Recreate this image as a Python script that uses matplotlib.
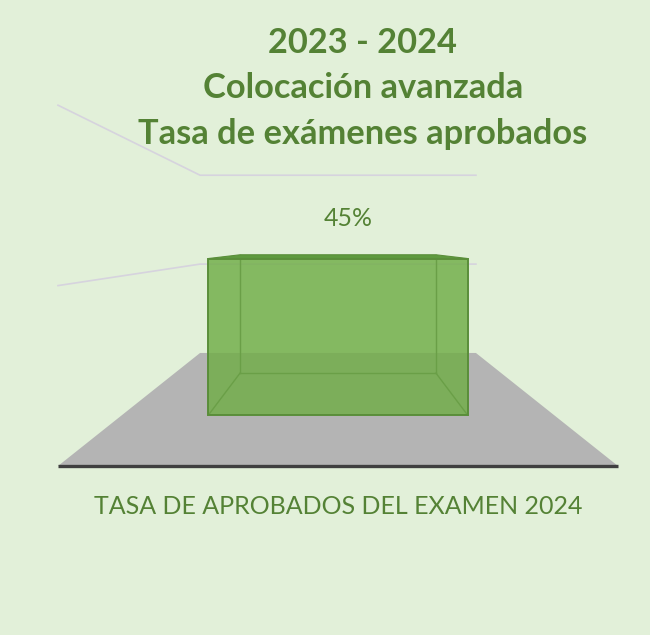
import matplotlib
matplotlib.use('Agg')
import matplotlib.pyplot as plt
from matplotlib.patches import Polygon

# ---- data ----
categories = ['TASA DE APROBADOS DEL EXAMEN 2024']
values = [0.45]
value_gridlines = [0.4, 0.8]
label_texts = ['45%']
title_lines = ['2023 - 2024', 'Colocación avanzada', 'Tasa de exámenes aprobados']

# ---- style ----
BG = '#E2F0D9'
GREEN_TXT = '#548235'
FONT = 'Lato'

fig = plt.figure(figsize=(6.5, 6.35), dpi=100, facecolor=BG)
ax = fig.add_axes([0, 0, 1, 1])
ax.set_axis_off()
ax.set_facecolor(BG)
# axes data space: x in category units, y in value units (front plane)
ax.set_xlim(-338 / 560, 312 / 560)
ax.set_ylim((466 - 635) / 451, 466 / 451)

# simple one-point perspective
VP_V = 0.494
Z_FRONT, Z_BACK = 1.0, 2.03
BAR_Z0, BAR_Z1 = 1.297, 1.715
BAR_W = 0.6


def proj(u, v, z):
    s = Z_FRONT / z
    return (u * s, VP_V + (v - VP_V) * s)


n = len(categories)
umin, umax = -0.5, n - 0.5

# gridlines on left side wall and back wall
for g in value_gridlines:
    pts = [proj(umin, g, Z_FRONT), proj(umin, g, Z_BACK), proj(umax, g, Z_BACK)]
    ax.plot([p[0] for p in pts], [p[1] for p in pts], color='#D6D3DE', lw=1.2,
            solid_joinstyle='miter', zorder=1)

# floor
floor = [proj(umin, 0, Z_FRONT), proj(umax, 0, Z_FRONT),
         proj(umax, 0, Z_BACK), proj(umin, 0, Z_BACK)]
ax.add_patch(Polygon(floor, closed=True, facecolor='#B4B4B4', edgecolor='none', zorder=2))
fe = [proj(umin, 0, Z_FRONT), proj(umax, 0, Z_FRONT)]
ax.plot([p[0] for p in fe], [p[1] for p in fe], color='#404040', lw=2.4,
        solid_capstyle='butt', zorder=3)

# bars
for i, val in enumerate(values):
    u0, u1 = i - BAR_W / 2, i + BAR_W / 2
    f00, f10 = proj(u0, 0, BAR_Z0), proj(u1, 0, BAR_Z0)
    f01, f11 = proj(u0, val, BAR_Z0), proj(u1, val, BAR_Z0)
    b00, b10 = proj(u0, 0, BAR_Z1), proj(u1, 0, BAR_Z1)
    b01, b11 = proj(u0, val, BAR_Z1), proj(u1, val, BAR_Z1)
    # front face
    ax.add_patch(Polygon([f00, f10, f11, f01], closed=True, facecolor='#70AD47',
                         alpha=0.82, edgecolor='none', zorder=4))
    # hidden edges seen through
    for a, b in [(b00, b10), (b00, b01), (b10, b11), (f00, b00), (f10, b10)]:
        ax.plot([a[0], b[0]], [a[1], b[1]], color='#6A9F47', lw=1.0, zorder=5)
    # top face
    ax.add_patch(Polygon([f01, f11, b11, b01], closed=True, facecolor='#5E9A3E',
                         edgecolor='#5A8E3A', lw=0.8, zorder=6))
    # front outline
    ax.add_patch(Polygon([f00, f10, f11, f01], closed=True, facecolor='none',
                         edgecolor='#5A8E3A', lw=1.4, zorder=7))
    # data label
    lab = ax.annotate(label_texts[i], xy=f01 if False else ((f01[0] + f11[0]) / 2, f01[1]),
                      xytext=(10, 33), textcoords='offset pixels', ha='center',
                      va='baseline', color=GREEN_TXT, fontsize=18, family=FONT, zorder=8)
    # category label
    cat = ax.annotate(categories[i], xy=proj(i, 0, Z_FRONT), xytext=(0, -48),
                      textcoords='offset pixels', ha='center', va='baseline',
                      color=GREEN_TXT, fontsize=18, family=FONT, zorder=8)

# title
title_objs = []
for k, line in enumerate(title_lines):
    base_px = [53, 98, 144][k]
    t = fig.text(363 / 650, 1 - base_px / 635, line, ha='center', va='baseline',
                 color=GREEN_TXT, fontsize=22, fontweight='bold', family=FONT)
    title_objs.append(t)

# fit font sizes to the reference text widths
renderer = fig.canvas.get_renderer()


def fit(t, target):
    for _ in range(3):
        w = t.get_window_extent(renderer).width
        t.set_fontsize(t.get_fontsize() * target / w)


fit(title_objs[2], 448)
for t in title_objs[:2]:
    t.set_fontsize(title_objs[2].get_fontsize())
fit(lab, 49)
fit(cat, 488)

fig.savefig('out.png', dpi=100, facecolor=BG)
